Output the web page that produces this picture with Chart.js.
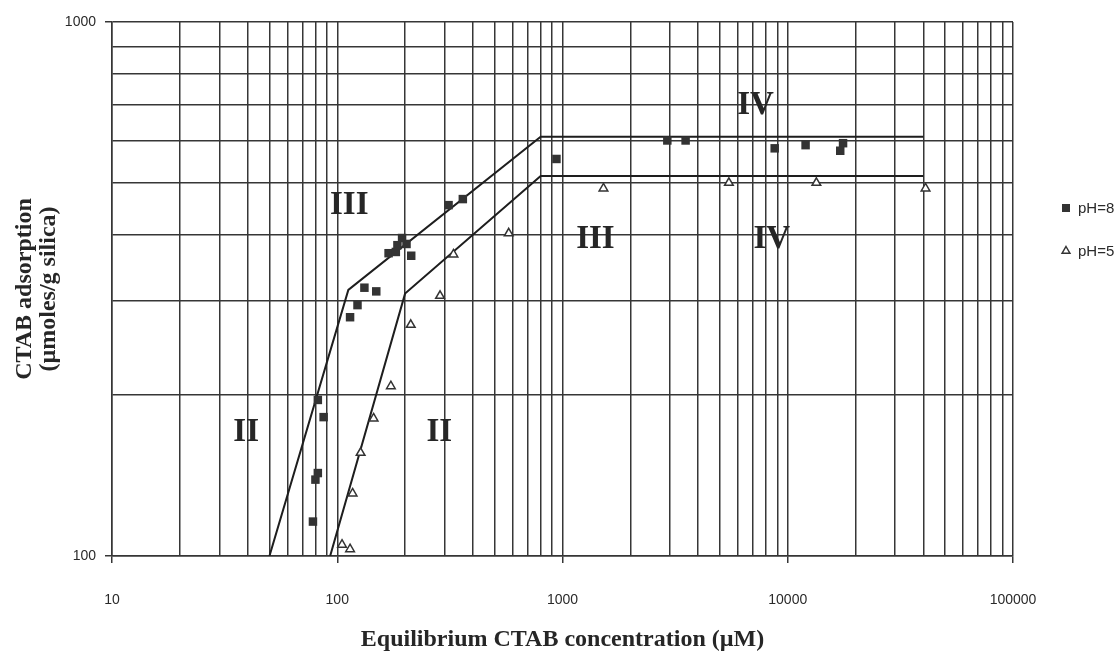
<!DOCTYPE html>
<html>
<head>
<meta charset="utf-8">
<script src="https://cdn.jsdelivr.net/npm/chart.js@4.4.0/dist/chart.umd.min.js"></script>
<style>
  html, body { margin: 0; padding: 0; background: #ffffff; }
  #wrap { width: 1120px; height: 655px; position: relative; }
</style>
</head>
<body>
<div id="wrap"><canvas id="chart" width="1120" height="655"></canvas></div>
<script>
// CTAB adsorption isotherms on silica at two pH values (log-log)

// Measured points, pH = 8 (equilibrium concentration in µM, adsorption in µmol/g)
const ph8Conc = [78, 80, 82, 82, 87, 114, 123, 132, 149, 169, 182, 185, 194, 203, 213, 312, 361, 940, 2920, 3520, 8750, 12000, 17600, 17100];
const ph8Ads  = [116, 139, 143, 196, 182, 280, 295, 318, 313, 369, 371, 382, 394, 384, 365, 454, 466, 554, 600, 600, 580, 588, 593, 574];

// Measured points, pH = 5
const ph5Conc = [105, 114, 117, 127, 145, 173, 212, 286, 328, 577, 1520, 5480, 13400, 40900];
const ph5Ads  = [105, 103, 131, 156, 181, 208, 271, 307, 367, 402, 488, 500, 500, 488];

// Piecewise region fits (regions II, III, IV)
const ph8FitConc = [50, 112, 800, 40000];
const ph8FitAds  = [100, 315, 610, 610];
const ph5FitConc = [93, 200, 800, 40000];
const ph5FitAds  = [100, 310, 515, 515];

// Region annotations, anchored in data units
const regionText = ['III', 'II', 'III', 'II', 'IV', 'IV'];
const regionConc = [113, 39.4, 1400, 284, 7200, 8500];
const regionAds  = [454, 170, 391, 170, 699, 391];

// Axis ticks: every gridline, labels on decades only
const xTickValues = [10,20,30,40,50,60,70,80,90,100,200,300,400,500,600,700,800,900,
                     1000,2000,3000,4000,5000,6000,7000,8000,9000,10000,20000,30000,40000,
                     50000,60000,70000,80000,90000,100000];
const xTickLabels = {10: '10', 100: '100', 1000: '1000', 10000: '10000', 100000: '100000'};
const yTickValues = [100,200,300,400,500,600,700,800,900,1000];
const yTickLabels = {100: '100', 1000: '1000'};

const seriesNames = ['pH=8', 'pH=5'];

const INK = '#2a2a2a';
const GRID = '#363636';
const SERIF = "'Liberation Serif', 'Times New Roman', serif";
const SANS = "'Liberation Sans', Arial, sans-serif";

const toXY = (xs, ys) => xs.map((x, i) => ({ x: x, y: ys[i] }));

// Roman-numeral region labels
const regionLabelPlugin = {
  id: 'regionLabels',
  afterDatasetsDraw(chart) {
    const { ctx, scales: { x, y } } = chart;
    ctx.save();
    ctx.font = 'bold 33px ' + SERIF;
    ctx.fillStyle = '#262626';
    ctx.textAlign = 'center';
    ctx.textBaseline = 'middle';
    regionText.forEach((t, i) => {
      ctx.fillText(t, x.getPixelForValue(regionConc[i]), y.getPixelForValue(regionAds[i]));
    });
    ctx.restore();
  }
};

// Legend block to the right of the plot, using the scatter datasets' styles
const sideLegendPlugin = {
  id: 'sideLegend',
  afterDraw(chart) {
    const { ctx } = chart;
    const items = [chart.data.datasets[0], chart.data.datasets[1]];
    const left = chart.chartArea.right + 53;
    const rows = [208, 251];
    ctx.save();
    items.forEach((ds, i) => {
      ctx.fillStyle = ds.backgroundColor;
      ctx.strokeStyle = ds.borderColor;
      ctx.lineWidth = ds.borderWidth;
      ctx.beginPath();
      if (ds.pointStyle === 'rect') {
        ctx.rect(left - 4, rows[i] - 4, 8, 8);
        ctx.fill();
      } else {
        const r = 4.5;
        ctx.moveTo(left, rows[i] - r);
        ctx.lineTo(left + r * 0.866, rows[i] + r * 0.5);
        ctx.lineTo(left - r * 0.866, rows[i] + r * 0.5);
        ctx.closePath();
        ctx.fillStyle = '#ffffff';
        ctx.fill();
        ctx.stroke();
      }
      ctx.fillStyle = INK;
      ctx.font = '15px ' + SANS;
      ctx.textAlign = 'left';
      ctx.textBaseline = 'middle';
      ctx.fillText(seriesNames[i], left + 12, rows[i] + 1);
    });
    ctx.restore();
  }
};

new Chart(document.getElementById('chart'), {
  type: 'scatter',
  data: {
    datasets: [
      {
        label: seriesNames[0],
        data: toXY(ph8Conc, ph8Ads),
        pointStyle: 'rect',
        pointRadius: 6,
        backgroundColor: '#333333',
        borderColor: '#333333',
        borderWidth: 0,
        showLine: false,
        order: 1
      },
      {
        label: seriesNames[1],
        data: toXY(ph5Conc, ph5Ads),
        pointStyle: 'triangle',
        pointRadius: 5,
        backgroundColor: '#ffffff',
        borderColor: '#333333',
        borderWidth: 1.5,
        showLine: false,
        order: 2
      },
      {
        label: 'pH=8 fit',
        data: toXY(ph8FitConc, ph8FitAds),
        showLine: true,
        borderColor: '#1e1e1e',
        borderWidth: 2,
        pointRadius: 0,
        fill: false,
        order: 3
      },
      {
        label: 'pH=5 fit',
        data: toXY(ph5FitConc, ph5FitAds),
        showLine: true,
        borderColor: '#1e1e1e',
        borderWidth: 2,
        pointRadius: 0,
        fill: false,
        order: 4
      }
    ]
  },
  options: {
    responsive: false,
    animation: false,
    devicePixelRatio: 1,
    layout: { padding: { top: 22, right: 107, bottom: 0, left: 0 } },
    plugins: {
      legend: { display: false },
      tooltip: { enabled: false }
    },
    scales: {
      x: {
        type: 'logarithmic',
        min: 10,
        max: 100000,
        afterBuildTicks(scale) { scale.ticks = xTickValues.map(v => ({ value: v })); },
        afterFit(scale) { scale.height = 99; },
        grid: {
          color: GRID,
          lineWidth: 1.5,
          drawTicks: true,
          tickLength: 7,
          tickColor: ctx => (ctx.tick && xTickLabels[ctx.tick.value]) ? GRID : 'rgba(0,0,0,0)'
        },
        border: { display: true, color: GRID, width: 1.5 },
        ticks: {
          autoSkip: false,
          maxRotation: 0,
          padding: 29,
          color: '#2a2a2a',
          font: { family: SANS, size: 14 },
          callback: v => xTickLabels[v] || ''
        },
        title: {
          display: true,
          text: 'Equilibrium CTAB concentration (\u00b5M)',
          color: '#262626',
          font: { family: SERIF, size: 24, weight: 'bold', lineHeight: 1 },
          padding: { top: 0, bottom: 3 }
        }
      },
      y: {
        type: 'logarithmic',
        min: 100,
        max: 1000,
        afterBuildTicks(scale) { scale.ticks = yTickValues.map(v => ({ value: v })); },
        afterFit(scale) { scale.width = 112; },
        grid: {
          color: GRID,
          lineWidth: 1.5,
          drawTicks: true,
          tickLength: 7,
          tickColor: ctx => (ctx.tick && yTickLabels[ctx.tick.value]) ? GRID : 'rgba(0,0,0,0)'
        },
        border: { display: true, color: GRID, width: 1.5 },
        ticks: {
          autoSkip: false,
          padding: 9,
          color: '#2a2a2a',
          font: { family: SANS, size: 14 },
          callback: v => yTickLabels[v] || ''
        },
        title: {
          display: true,
          text: ['CTAB adsorption', '(\u00b5moles/g silica)'],
          color: '#262626',
          font: { family: SERIF, size: 24, weight: 'bold', lineHeight: 1 },
          padding: { top: 13, bottom: 0 }
        }
      }
    }
  },
  plugins: [regionLabelPlugin, sideLegendPlugin]
});
</script>
</body>
</html>
